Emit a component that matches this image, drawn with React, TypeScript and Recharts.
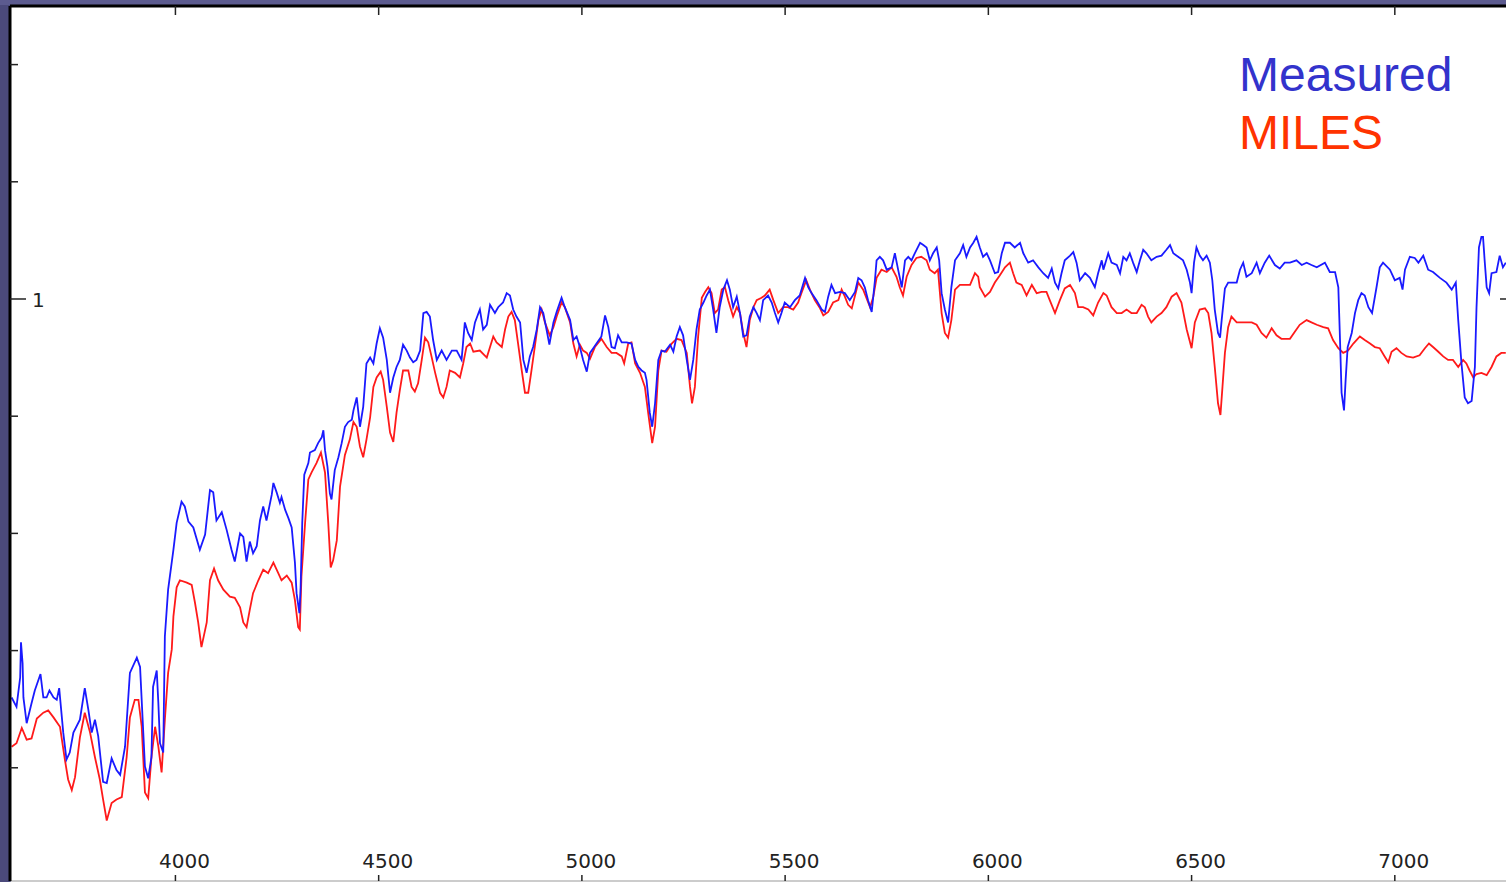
import { LineChart, Line, XAxis, YAxis } from 'recharts';

// [wavelength (Å), relative flux]
const measured: [number, number][] = [
  [3597, 0.66], [3609, 0.652], [3618, 0.677], [3620, 0.707], [3624, 0.689], [3626, 0.66], [3634, 0.638], [3646, 0.655],
  [3654, 0.666], [3668, 0.68], [3675, 0.66], [3683, 0.66], [3690, 0.666], [3700, 0.66], [3708, 0.658], [3714, 0.668],
  [3724, 0.63], [3732, 0.607], [3740, 0.613], [3749, 0.63], [3765, 0.641], [3777, 0.668], [3786, 0.649], [3794, 0.63],
  [3802, 0.641], [3810, 0.627], [3822, 0.588], [3831, 0.587], [3843, 0.608], [3855, 0.598], [3864, 0.594], [3876, 0.618],
  [3888, 0.681], [3905, 0.694], [3913, 0.686], [3925, 0.601], [3933, 0.591], [3941, 0.609], [3945, 0.669], [3954, 0.683],
  [3958, 0.655], [3962, 0.621], [3970, 0.613], [3974, 0.712], [3982, 0.752], [3995, 0.786], [4003, 0.809], [4015, 0.827],
  [4023, 0.823], [4032, 0.81], [4044, 0.805], [4060, 0.786], [4073, 0.799], [4085, 0.837], [4093, 0.835], [4101, 0.811],
  [4114, 0.818], [4126, 0.803], [4138, 0.786], [4146, 0.776], [4159, 0.8], [4167, 0.797], [4175, 0.776],
  [4183, 0.793], [4191, 0.783], [4200, 0.789], [4208, 0.811], [4216, 0.823], [4224, 0.811], [4237, 0.833], [4241, 0.843],
  [4249, 0.835], [4257, 0.826], [4261, 0.831], [4270, 0.82], [4278, 0.813], [4286, 0.805], [4294, 0.775], [4298, 0.749],
  [4305, 0.732], [4308, 0.754], [4312, 0.809], [4317, 0.85], [4327, 0.86], [4331, 0.869], [4343, 0.871], [4351, 0.877],
  [4360, 0.882], [4364, 0.888], [4368, 0.871], [4374, 0.857], [4380, 0.834], [4384, 0.829], [4392, 0.854], [4401, 0.865],
  [4409, 0.877], [4417, 0.891], [4425, 0.895], [4434, 0.897], [4438, 0.905], [4446, 0.916], [4454, 0.891], [4462, 0.908],
  [4470, 0.945], [4479, 0.95], [4487, 0.945], [4495, 0.962], [4503, 0.975], [4511, 0.967], [4520, 0.948], [4528, 0.92],
  [4536, 0.933], [4544, 0.942], [4552, 0.948], [4560, 0.961], [4569, 0.956], [4577, 0.95], [4585, 0.946], [4593, 0.948],
  [4602, 0.956], [4610, 0.988], [4618, 0.989], [4626, 0.985], [4634, 0.965], [4643, 0.948], [4655, 0.956], [4667, 0.948],
  [4680, 0.956], [4692, 0.956], [4704, 0.948], [4712, 0.98], [4720, 0.971], [4729, 0.965], [4737, 0.98], [4749, 0.991],
  [4757, 0.974], [4766, 0.978], [4774, 0.995],
  [4786, 0.988], [4794, 0.993], [4806, 0.997], [4815, 1.005], [4823, 1.003], [4831, 0.991], [4839, 0.985], [4848, 0.98],
  [4856, 0.948], [4864, 0.937], [4872, 0.951], [4880, 0.959], [4889, 0.974], [4897, 0.993], [4905, 0.988], [4913, 0.974],
  [4920, 0.961], [4930, 0.98], [4938, 0.989], [4950, 1.001], [4958, 0.993], [4971, 0.982], [4979, 0.965], [4987, 0.968],
  [4995, 0.959], [5003, 0.948], [5012, 0.938], [5020, 0.954], [5028, 0.958], [5036, 0.962], [5048, 0.968], [5057, 0.986],
  [5065, 0.976], [5073, 0.959], [5081, 0.958], [5089, 0.969], [5098, 0.963], [5110, 0.963], [5122, 0.962], [5131, 0.948],
  [5139, 0.942], [5147, 0.939], [5155, 0.937], [5159, 0.931], [5167, 0.903], [5173, 0.891], [5180, 0.911], [5188, 0.948],
  [5196, 0.956], [5204, 0.955], [5217, 0.961], [5225, 0.955], [5233, 0.968], [5241, 0.976], [5249, 0.969], [5258, 0.948],
  [5266, 0.931], [5274, 0.948], [5282, 0.974], [5290, 0.991], [5299, 0.997], [5307, 1.003], [5315, 1.008], [5323, 0.991],
  [5331, 0.971], [5339, 0.993], [5348, 1.008], [5357, 1.016], [5364, 1.008],
  [5372, 0.993], [5381, 1.002], [5389, 0.988], [5397, 0.968], [5405, 0.969], [5413, 0.985], [5422, 0.993], [5430, 0.988],
  [5438, 0.982], [5446, 0.999], [5458, 1.003], [5467, 0.997], [5475, 0.988], [5483, 0.98], [5491, 0.988], [5499, 0.997],
  [5512, 0.993], [5524, 0.999], [5536, 1.003], [5549, 1.018], [5557, 1.01], [5565, 1.005], [5577, 0.999], [5590, 0.991],
  [5598, 0.989], [5606, 1.002], [5614, 1.012], [5623, 1.005], [5635, 1.006], [5647, 1.005], [5659, 0.999], [5672, 1.006],
  [5680, 1.018], [5688, 1.016], [5696, 1.01], [5704, 0.999], [5713, 0.989], [5721, 1.016], [5725, 1.033], [5733, 1.036],
  [5741, 1.033], [5750, 1.025], [5762, 1.027], [5770, 1.039], [5778, 1.025], [5787, 1.01], [5795, 1.033], [5803, 1.036],
  [5811, 1.033], [5819, 1.039], [5832, 1.048], [5840, 1.046], [5848, 1.044], [5856, 1.033], [5864, 1.039], [5873, 1.044],
  [5879, 1.033], [5885, 1.005], [5893, 0.991], [5901, 0.98], [5909, 1.01], [5918, 1.033], [5930, 1.039], [5938, 1.046],
  [5946, 1.036], [5955, 1.044],
  [5963, 1.048], [5971, 1.053], [5979, 1.044], [5987, 1.036], [5996, 1.039], [6004, 1.033], [6016, 1.022], [6024, 1.023],
  [6033, 1.039], [6041, 1.048], [6053, 1.048], [6065, 1.044], [6078, 1.048], [6086, 1.039], [6098, 1.031], [6110, 1.033],
  [6123, 1.027], [6135, 1.022], [6147, 1.018], [6156, 1.026], [6164, 1.014], [6172, 1.009], [6180, 1.022], [6188, 1.033],
  [6201, 1.037], [6209, 1.04], [6217, 1.031], [6225, 1.016], [6238, 1.022], [6250, 1.018], [6262, 1.01], [6270, 1.022],
  [6279, 1.033], [6283, 1.025], [6295, 1.039], [6303, 1.031], [6316, 1.029], [6324, 1.022], [6332, 1.036], [6340, 1.033],
  [6348, 1.039], [6356, 1.031], [6365, 1.023], [6373, 1.033], [6381, 1.042], [6389, 1.039], [6401, 1.033], [6414, 1.036],
  [6426, 1.037], [6438, 1.042], [6447, 1.046], [6455, 1.039], [6467, 1.036], [6479, 1.033], [6488, 1.025], [6496, 1.014],
  [6500, 1.005], [6506, 1.031], [6512, 1.044], [6520, 1.037], [6528, 1.033], [6537, 1.037], [6545, 1.031],
  [6551, 1.016], [6557, 0.991], [6565, 0.971], [6570, 0.967], [6574, 0.982], [6582, 1.009], [6590, 1.014], [6602, 1.014],
  [6611, 1.014], [6619, 1.025], [6627, 1.031], [6635, 1.019], [6648, 1.022], [6660, 1.031], [6668, 1.022], [6680, 1.031],
  [6691, 1.037], [6705, 1.029], [6717, 1.026], [6729, 1.031], [6742, 1.031], [6758, 1.033], [6771, 1.029], [6783, 1.031],
  [6795, 1.029], [6808, 1.027], [6828, 1.031], [6840, 1.023], [6853, 1.023], [6861, 1.01], [6865, 0.967], [6869, 0.92],
  [6875, 0.905], [6879, 0.931], [6884, 0.959], [6894, 0.971], [6902, 0.988], [6910, 0.999], [6918, 1.005], [6926, 1.003],
  [6935, 0.993], [6944, 0.988], [6955, 1.01], [6963, 1.027], [6971, 1.031], [6988, 1.025], [7000, 1.016], [7012, 1.018],
  [7019, 1.008], [7025, 1.025], [7037, 1.036], [7049, 1.035], [7058, 1.031], [7070, 1.037], [7082, 1.025], [7094, 1.023],
  [7111, 1.018], [7127, 1.014], [7140, 1.008], [7150, 1.014], [7156, 0.982], [7164, 0.945], [7172, 0.916], [7180, 0.911],
  [7189, 0.913], [7197, 0.942], [7201, 0.993], [7207, 1.044], [7213, 1.053], [7217, 1.053], [7221, 1.033], [7226, 1.01],
  [7232, 1.005], [7238, 1.022], [7250, 1.023], [7258, 1.037], [7266, 1.027], [7273, 1.031],
];

const miles: [number, number][] = [
  [3597, 0.618], [3609, 0.621], [3622, 0.634], [3634, 0.624], [3646, 0.625], [3659, 0.642], [3675, 0.647], [3687, 0.649],
  [3700, 0.643], [3716, 0.635], [3728, 0.607], [3736, 0.59], [3745, 0.581], [3753, 0.592], [3765, 0.626], [3777, 0.647],
  [3790, 0.63], [3802, 0.609], [3814, 0.59], [3822, 0.573], [3831, 0.555], [3843, 0.57], [3855, 0.573], [3868, 0.575],
  [3880, 0.609], [3888, 0.643], [3900, 0.658], [3909, 0.658], [3917, 0.635], [3925, 0.579], [3933, 0.574], [3941, 0.609],
  [3950, 0.635], [3958, 0.618], [3966, 0.596], [3974, 0.641], [3982, 0.681], [3991, 0.701], [3995, 0.729], [4003, 0.754],
  [4011, 0.76], [4028, 0.758], [4040, 0.756], [4048, 0.741], [4056, 0.724], [4064, 0.703], [4077, 0.724], [4085, 0.76],
  [4095, 0.77], [4105, 0.76], [4118, 0.752], [4134, 0.746], [4146, 0.745], [4159, 0.737], [4167, 0.724], [4175, 0.72],
  [4183, 0.735],
  [4191, 0.749], [4204, 0.76], [4216, 0.769], [4228, 0.766], [4241, 0.775], [4253, 0.766], [4261, 0.76], [4274, 0.764],
  [4286, 0.758], [4294, 0.743], [4302, 0.72], [4306, 0.718], [4310, 0.763], [4319, 0.809], [4327, 0.846], [4335, 0.852],
  [4347, 0.86], [4358, 0.869], [4368, 0.852], [4376, 0.809], [4382, 0.771], [4388, 0.777], [4397, 0.794], [4405, 0.84],
  [4417, 0.867], [4429, 0.88], [4438, 0.895], [4446, 0.891], [4454, 0.874], [4462, 0.865], [4470, 0.88], [4479, 0.899],
  [4487, 0.925], [4495, 0.933], [4505, 0.938], [4511, 0.931], [4520, 0.908], [4528, 0.886], [4536, 0.878], [4544, 0.903],
  [4552, 0.922], [4560, 0.939], [4573, 0.939], [4581, 0.925], [4589, 0.921], [4597, 0.928], [4606, 0.948], [4614, 0.967],
  [4622, 0.963], [4630, 0.951], [4639, 0.937], [4651, 0.92], [4659, 0.916], [4667, 0.925], [4675, 0.939], [4688, 0.937],
  [4700, 0.933], [4708, 0.945], [4716, 0.959], [4725, 0.962], [4733, 0.955], [4749, 0.956], [4766, 0.95], [4774, 0.959],
  [4782, 0.968], [4790, 0.963], [4803, 0.959], [4811, 0.974], [4819, 0.985], [4827, 0.989], [4835, 0.982], [4843, 0.962],
  [4852, 0.939], [4860, 0.92], [4868, 0.92], [4876, 0.939], [4884, 0.959], [4893, 0.982], [4901, 0.991], [4909, 0.98],
  [4921, 0.969], [4930, 0.976], [4938, 0.985], [4950, 0.997], [4958, 0.993], [4971, 0.98], [4979, 0.962], [4987, 0.951],
  [4995, 0.961], [5003, 0.956], [5012, 0.954], [5020, 0.949], [5032, 0.959], [5048, 0.966], [5061, 0.959], [5073, 0.954],
  [5085, 0.954], [5098, 0.951], [5104, 0.945], [5114, 0.962], [5122, 0.963], [5131, 0.945], [5143, 0.937], [5155, 0.925],
  [5163, 0.903], [5173, 0.877], [5180, 0.891], [5188, 0.939], [5196, 0.956], [5208, 0.955], [5221, 0.962], [5233, 0.966],
  [5245, 0.965], [5258, 0.954], [5266, 0.925], [5271, 0.911], [5278, 0.925], [5286, 0.968], [5295, 1.001], [5303, 1.006],
  [5311, 1.01], [5319, 1.005], [5327, 0.988], [5335, 0.991], [5344, 1.008], [5352, 1.01], [5360, 0.999],
  [5372, 0.985], [5381, 0.993], [5389, 0.988], [5397, 0.971], [5405, 0.959], [5413, 0.982], [5422, 0.993], [5430, 0.999],
  [5442, 1.001], [5450, 1.003], [5462, 1.008], [5471, 0.999], [5483, 0.988], [5495, 0.993], [5507, 0.993], [5520, 0.991],
  [5532, 0.997], [5540, 1.005], [5552, 1.016], [5561, 1.008], [5573, 0.999], [5586, 0.992], [5594, 0.986], [5606, 0.989],
  [5618, 0.997], [5631, 0.999], [5639, 1.008], [5647, 1.002], [5655, 0.995], [5664, 0.992], [5672, 1.003], [5680, 1.014],
  [5692, 1.008], [5700, 1.001], [5709, 0.993], [5717, 1.002], [5725, 1.018], [5737, 1.025], [5750, 1.023], [5762, 1.027],
  [5774, 1.019], [5782, 1.01], [5790, 1.003], [5799, 1.019], [5811, 1.029], [5823, 1.035], [5835, 1.036], [5848, 1.033],
  [5856, 1.025], [5868, 1.022], [5876, 1.025], [5885, 0.988], [5893, 0.971], [5901, 0.967], [5909, 0.982], [5918, 1.008],
  [5930, 1.012], [5942, 1.012], [5955, 1.012], [5967, 1.022], [5975, 1.019],
  [5979, 1.01], [5992, 1.002], [6004, 1.006], [6016, 1.014], [6028, 1.02], [6041, 1.027], [6053, 1.031], [6061, 1.022],
  [6069, 1.014], [6082, 1.012], [6094, 1.003], [6107, 1.012], [6119, 1.005], [6131, 1.006], [6143, 1.006], [6151, 0.999],
  [6164, 0.988], [6176, 0.999], [6188, 1.009], [6201, 1.012], [6213, 1.005], [6221, 0.993], [6233, 0.993], [6246, 0.991],
  [6258, 0.986], [6270, 0.997], [6283, 1.005], [6291, 1.003], [6303, 0.993], [6316, 0.988], [6328, 0.988], [6340, 0.991],
  [6352, 0.988], [6365, 0.988], [6377, 0.995], [6385, 0.993], [6393, 0.985], [6401, 0.98], [6414, 0.985], [6426, 0.988],
  [6438, 0.993], [6451, 1.002], [6463, 1.005], [6475, 0.997], [6488, 0.974], [6500, 0.958], [6508, 0.98], [6520, 0.991],
  [6533, 0.992], [6541, 0.988], [6549, 0.971], [6557, 0.942],
  [6565, 0.911], [6571, 0.901], [6576, 0.925], [6582, 0.954], [6590, 0.976], [6598, 0.985], [6611, 0.98], [6627, 0.98],
  [6648, 0.98], [6660, 0.978], [6672, 0.971], [6684, 0.967], [6697, 0.975], [6709, 0.969], [6721, 0.966], [6742, 0.966],
  [6754, 0.972], [6766, 0.978], [6783, 0.982], [6795, 0.98], [6808, 0.978], [6824, 0.976], [6836, 0.975], [6848, 0.965],
  [6861, 0.958], [6873, 0.954], [6885, 0.956], [6898, 0.962], [6914, 0.968], [6926, 0.965], [6939, 0.962], [6951, 0.959],
  [6963, 0.958], [6975, 0.951], [6984, 0.946], [6992, 0.955], [7004, 0.958], [7016, 0.954], [7029, 0.951], [7045, 0.95],
  [7061, 0.952], [7074, 0.958], [7084, 0.962], [7094, 0.959], [7107, 0.955], [7119, 0.951], [7131, 0.948], [7143, 0.948],
  [7156, 0.942], [7168, 0.948], [7176, 0.945], [7184, 0.939], [7193, 0.933], [7201, 0.936], [7213, 0.937], [7226, 0.935],
  [7238, 0.942], [7250, 0.951], [7262, 0.954], [7273, 0.954],
];

const xTicks = [4000, 4500, 5000, 5500, 6000, 6500, 7000];
const yTicks = [0.6, 0.7, 0.8, 0.9, 1, 1.1, 1.2];
const labelledY = [1];

const legendItems = [
  { name: 'Measured', color: '#3333cc' },
  { name: 'MILES', color: '#ff3300' },
];

const measuredData = measured.map(([w, f]) => ({ w, f }));
const milesData = miles.map(([w, f]) => ({ w, f }));

const tickFont = '"DejaVu Sans", sans-serif';

function BottomTick({ x, y, payload }: any) {
  return (
    <g>
      <line x1={x} x2={x} y1={y} y2={y - 6} stroke="#222" strokeWidth={1.5} />
      <text x={x + 9} y={y - 13} textAnchor="middle" fontFamily={tickFont} fontSize={20} fill="#222">
        {payload.value}
      </text>
    </g>
  );
}

function TopTick({ x, y }: any) {
  return <line x1={x} x2={x} y1={y} y2={y + 9} stroke="#222" strokeWidth={1.5} />;
}

function LeftTick({ x, y, payload }: any) {
  const major = labelledY.includes(payload.value);
  return (
    <g>
      <line x1={x} x2={x + (major ? 16 : 8)} y1={y} y2={y} stroke="#222" strokeWidth={1.5} />
      {major && (
        <text x={x + 22} y={y + 8} textAnchor="start" fontFamily={tickFont} fontSize={20} fill="#222">
          {payload.value}
        </text>
      )}
    </g>
  );
}

function RightTick({ x, y }: any) {
  return <line x1={x - 7} x2={x} y1={y} y2={y} stroke="#222" strokeWidth={1.5} />;
}

export default function App() {
  return (
    <div
      style={{
        position: 'absolute', left: 0, top: 0, width: 1506, height: 882, overflow: 'hidden',
        background: '#4b4a7b',
      }}
    >
      <div style={{ position: 'absolute', left: 0, top: 0, width: 1506, height: 5, background: '#5c5b8f' }} />
      <div style={{ position: 'absolute', left: 11, top: 7, width: 1500, height: 880, background: '#fff' }} />
      <div style={{ position: 'absolute', left: 0, top: 0 }}>
        <LineChart width={1520} height={882} margin={{ top: 5, right: 12, bottom: 0, left: 9 }}>
          <XAxis
            xAxisId="bottom"
            dataKey="w"
            type="number"
            domain={[3593, 7276]}
            allowDataOverflow
            ticks={xTicks}
            height={1}
            tickSize={0}
            tickMargin={0}
            tickLine={false}
            axisLine={{ stroke: '#999', strokeWidth: 1 }}
            tick={<BottomTick />}
          />
          <XAxis
            xAxisId="top"
            orientation="top"
            dataKey="w"
            type="number"
            domain={[3593, 7276]}
            allowDataOverflow
            ticks={xTicks}
            height={1}
            tickSize={0}
            tickMargin={0}
            tickLine={false}
            axisLine={{ stroke: '#000', strokeWidth: 3 }}
            tick={<TopTick />}
          />
          <YAxis
            yAxisId="left"
            type="number"
            domain={[0.5034, 1.25]}
            allowDataOverflow
            ticks={yTicks}
            width={1}
            tickSize={0}
            tickMargin={0}
            tickLine={false}
            axisLine={{ stroke: '#000', strokeWidth: 3 }}
            tick={<LeftTick />}
          />
          <YAxis
            yAxisId="right"
            orientation="right"
            type="number"
            domain={[0.5034, 1.25]}
            allowDataOverflow
            ticks={labelledY}
            width={1}
            tickSize={0}
            tickMargin={0}
            tickLine={false}
            axisLine={false}
            tick={<RightTick />}
          />
          <Line
            xAxisId="bottom"
            yAxisId="left"
            data={milesData}
            dataKey="f"
            type="linear"
            stroke="#ff1a1a"
            strokeWidth={1.8}
            dot={false}
            isAnimationActive={false}
          />
          <Line
            xAxisId="bottom"
            yAxisId="left"
            data={measuredData}
            dataKey="f"
            type="linear"
            stroke="#1a1aff"
            strokeWidth={1.8}
            dot={false}
            isAnimationActive={false}
          />
        </LineChart>
      </div>
      <svg
        width={300}
        height={170}
        style={{ position: 'absolute', left: 1230, top: 0 }}
      >
        {legendItems.map((item, i) => (
          <text
            key={item.name}
            x={9}
            y={91 + i * 58}
            fontFamily='"Liberation Sans", Arial, Helvetica, sans-serif'
            fontSize={48}
            fill={item.color}
          >
            {item.name}
          </text>
        ))}
      </svg>
    </div>
  );
}
